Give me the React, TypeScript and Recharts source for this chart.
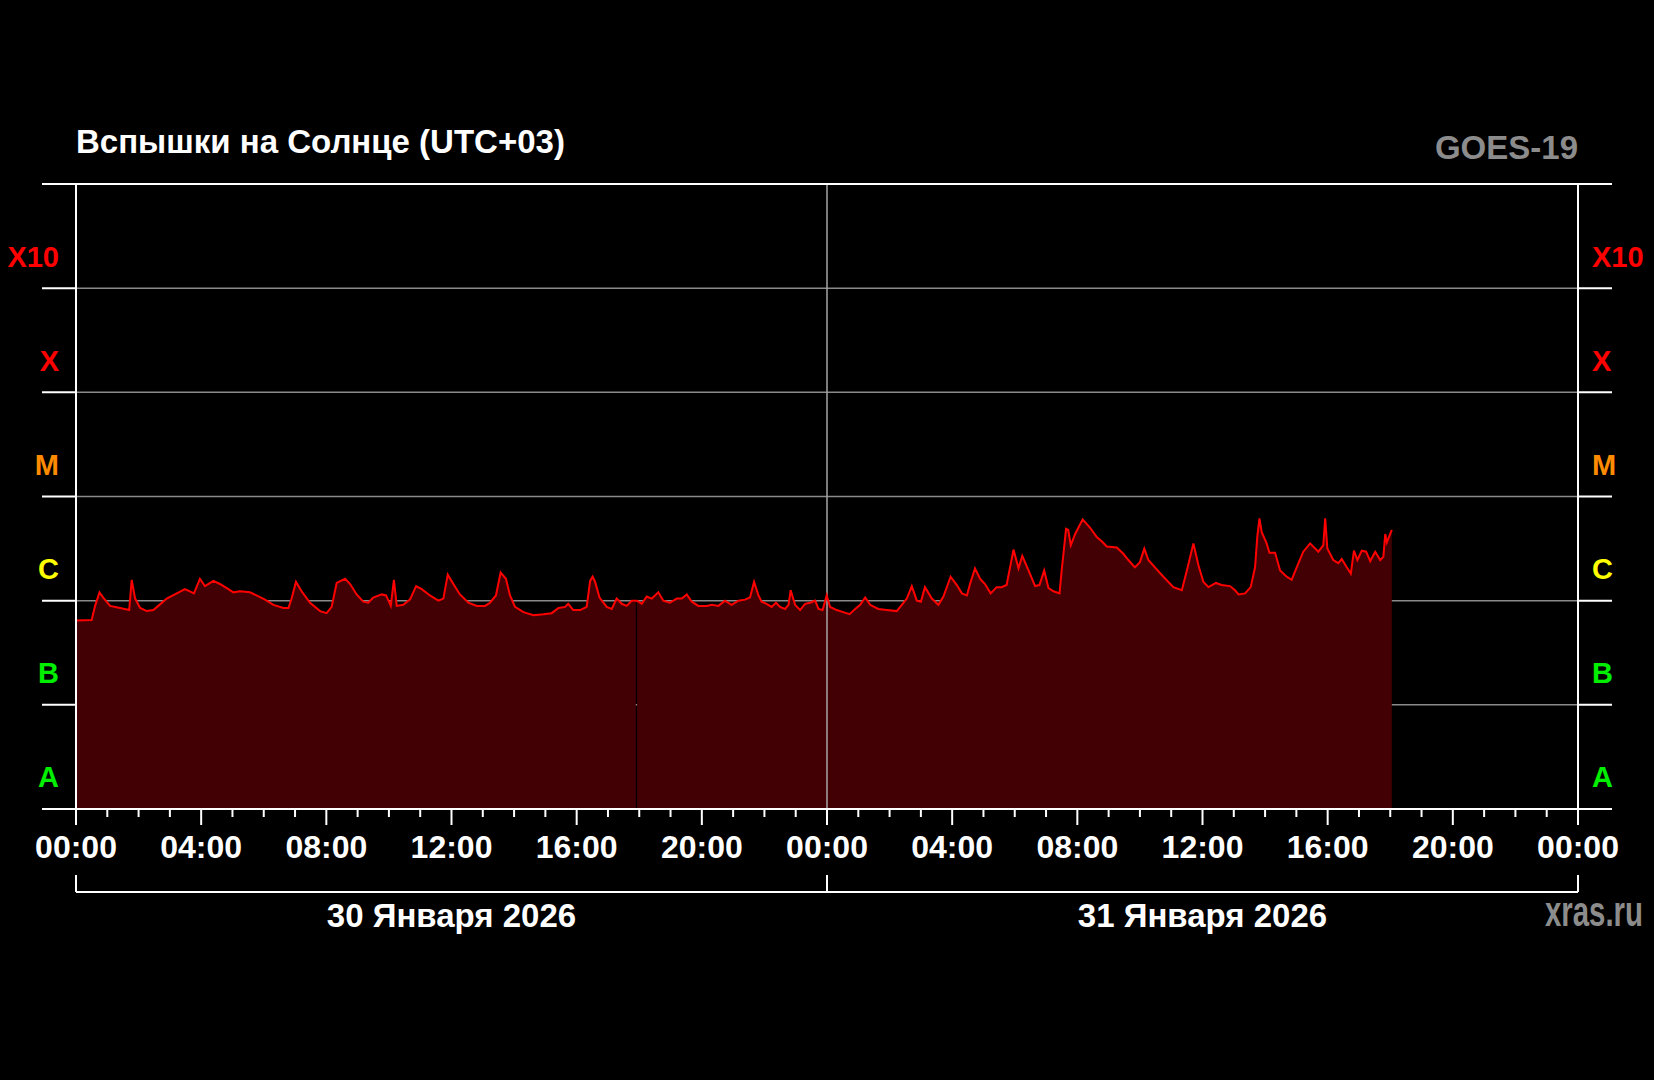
import React from 'react';
import {
  ComposedChart,
  Area,
  Line,
  XAxis,
  YAxis,
  CartesianGrid,
  ReferenceLine,
} from 'recharts';

// Time in hours from 30 Jan 2026 00:00 (UTC+03)
const hours = [
  0.0, 0.5, 0.61, 0.75, 0.87, 1.09, 1.41, 1.7, 1.78, 1.89, 2.05, 2.26, 2.47, 2.63, 2.9, 3.22, 3.48, 3.64, 3.77, 3.96,
  4.12, 4.39, 4.6, 4.87, 5.03, 5.24, 5.56, 5.77, 6.04, 6.31, 6.63, 6.79, 6.89, 7.03, 7.21, 7.48, 7.8, 8.01, 8.17, 8.33,
  8.6, 8.76, 8.97, 9.18, 9.34, 9.5, 9.77, 9.91, 10.06, 10.16, 10.25, 10.46, 10.67, 10.87, 11.05, 11.31, 11.58, 11.74,
  11.88, 12.06, 12.27, 12.54, 12.81, 13.07, 13.23, 13.42, 13.57, 13.74, 13.87, 14.03, 14.3, 14.62, 14.94, 15.2, 15.42,
  15.63, 15.73, 15.89, 16.11, 16.32, 16.43, 16.51, 16.59, 16.73, 16.96, 17.12, 17.28, 17.44, 17.6, 17.76, 17.89, 17.93,
  18.08, 18.24, 18.4, 18.61, 18.77, 18.98, 19.2, 19.36, 19.52, 19.68, 19.89, 20.16, 20.32, 20.53, 20.74, 20.95, 21.17,
  21.38, 21.54, 21.67, 21.81, 21.91, 22.07, 22.23, 22.37, 22.5, 22.66, 22.77, 22.84, 22.98, 23.14, 23.3, 23.46, 23.62,
  23.73, 23.86, 23.99, 24.1, 24.31, 24.52, 24.72, 24.9, 25.06, 25.22, 25.38, 25.64, 25.91, 26.23, 26.39, 26.55, 26.71,
  26.87, 27.0, 27.13, 27.35, 27.56, 27.72, 27.95, 28.15, 28.31, 28.47, 28.57, 28.73, 28.89, 29.05, 29.23, 29.42, 29.58,
  29.74, 29.96, 30.12, 30.24, 30.44, 30.65, 30.79, 30.94, 31.08, 31.24, 31.43, 31.5, 31.64, 31.71, 31.79, 31.93, 32.17,
  32.41, 32.62, 32.78, 32.94, 33.26, 33.47, 33.63, 33.84, 34.0, 34.14, 34.27, 34.48, 34.75, 35.07, 35.34, 35.5, 35.71,
  35.87, 36.03, 36.19, 36.43, 36.61, 36.88, 37.04, 37.15, 37.36, 37.54, 37.68, 37.75, 37.82, 37.89, 38.05, 38.14, 38.32,
  38.48, 38.69, 38.85, 39.01, 39.22, 39.44, 39.7, 39.86, 39.92, 39.99, 40.18, 40.34, 40.45, 40.61, 40.74, 40.84, 40.95,
  41.09, 41.23, 41.36, 41.52, 41.68, 41.78, 41.84, 41.89, 42.05,
];

// log10 of X-ray flux (W/m^2)
const logFlux = [
  -6.19, -6.185, -6.05, -5.92, -5.97, -6.05, -6.07, -6.09, -5.8, -5.98, -6.07, -6.1, -6.09, -6.05, -5.98, -5.93, -5.89,
  -5.91, -5.93, -5.79, -5.86, -5.81, -5.84, -5.89, -5.92, -5.91, -5.92, -5.95, -5.99, -6.04, -6.07, -6.07, -5.98, -5.82,
  -5.91, -6.02, -6.1, -6.12, -6.06, -5.83, -5.79, -5.84, -5.94, -6.01, -6.02, -5.97, -5.94, -5.95, -6.05, -5.8, -6.05,
  -6.04, -5.99, -5.86, -5.89, -5.95, -6.0, -5.98, -5.75, -5.84, -5.94, -6.02, -6.05, -6.05, -6.02, -5.95, -5.73, -5.79,
  -5.95, -6.06, -6.11, -6.14, -6.13, -6.12, -6.07, -6.06, -6.03, -6.09, -6.09, -6.06, -5.81, -5.77, -5.82, -5.97, -6.06,
  -6.08, -5.98, -6.03, -6.05, -6.0, -6.0, -6.0, -6.03, -5.96, -5.98, -5.92, -6.0, -6.02, -5.98, -5.98, -5.94, -6.01,
  -6.05, -6.05, -6.04, -6.05, -6.0, -6.04, -6.0, -5.99, -5.97, -5.82, -5.95, -6.01, -6.03, -6.06, -6.02, -6.06, -6.08,
  -6.04, -5.9, -6.04, -6.09, -6.03, -6.02, -6.0, -6.08, -6.09, -5.95, -6.06, -6.09, -6.11, -6.13, -6.08, -6.04, -5.97,
  -6.04, -6.08, -6.09, -6.1, -6.04, -5.98, -5.86, -6.0, -6.01, -5.87, -5.98, -6.04, -5.96, -5.77, -5.85, -5.93, -5.95,
  -5.84, -5.69, -5.79, -5.84, -5.93, -5.87, -5.87, -5.85, -5.51, -5.69, -5.57, -5.71, -5.86, -5.85, -5.71, -5.88, -5.91,
  -5.93, -5.71, -5.31, -5.32, -5.47, -5.36, -5.22, -5.3, -5.39, -5.43, -5.48, -5.49, -5.55, -5.61, -5.68, -5.63, -5.5,
  -5.61, -5.68, -5.77, -5.87, -5.9, -5.71, -5.45, -5.66, -5.82, -5.87, -5.83, -5.85, -5.86, -5.9, -5.94, -5.93, -5.87,
  -5.68, -5.39, -5.21, -5.34, -5.45, -5.54, -5.54, -5.71, -5.77, -5.8, -5.68, -5.53, -5.45, -5.53, -5.47, -5.21, -5.5,
  -5.61, -5.64, -5.6, -5.68, -5.74, -5.52, -5.61, -5.52, -5.53, -5.62, -5.53, -5.61, -5.58, -5.36, -5.44, -5.32,
];

// Missing sample (fill gap)
const gapHours = [17.91];

const decadeTicks = [-8, -7, -6, -5, -4, -3, -2];
const classFloors = [-8, -7, -6, -5, -4, -3];
const classNames = ['A', 'B', 'C', 'M', 'X', 'X10'];
const classColors = ['#00ee00', '#00ee00', '#ffff00', '#ff8c00', '#ff0000', '#ff0000'];

const hourTicks = [
  0, 1, 2, 3, 4, 5, 6, 7, 8, 9, 10, 11, 12, 13, 14, 15, 16, 17, 18, 19, 20, 21, 22, 23, 24, 25, 26, 27, 28, 29, 30, 31,
  32, 33, 34, 35, 36, 37, 38, 39, 40, 41, 42, 43, 44, 45, 46, 47, 48,
];
const hourLabels = ['00:00', '04:00', '08:00', '12:00', '16:00', '20:00', '00:00', '04:00', '08:00', '12:00', '16:00', '20:00', '00:00'];
const dayTicks = [0, 12, 24, 36, 48];
const dayLabels = ['30 Января 2026', '31 Января 2026'];

const FONT = "'Liberation Sans', Arial, Helvetica, sans-serif";

const rows: { t: number; flux: number | null }[] = hours.map((t, i) => ({ t, flux: logFlux[i] }));
gapHours.forEach((g) => rows.push({ t: g, flux: null }));
rows.sort((a, b) => a.t - b.t);

const HourTick = (props: any) => {
  const { x, y, payload } = props;
  const v = payload.value as number;
  const major = v % 4 === 0;
  return (
    <g>
      <line x1={x} y1={y} x2={x} y2={y + (major ? 16 : 8)} stroke="#ffffff" strokeWidth={2} />
      {major && (
        <text
          x={x}
          y={y + 38}
          textAnchor="middle"
          dominantBaseline="central"
          fill="#ffffff"
          fontFamily={FONT}
          fontWeight="bold"
          fontSize={32}
        >
          {hourLabels[v / 4]}
        </text>
      )}
    </g>
  );
};

const DayTick = (props: any) => {
  const { x, y, payload } = props;
  const v = payload.value as number;
  if (v % 24 === 0) {
    return <line x1={x} y1={y} x2={x} y2={y - 17} stroke="#ffffff" strokeWidth={2} />;
  }
  return (
    <text
      x={x}
      y={y + 23}
      textAnchor="middle"
      dominantBaseline="central"
      fill="#ffffff"
      fontFamily={FONT}
      fontWeight="bold"
      fontSize={33}
    >
      {dayLabels[Math.floor(v / 24)]}
    </text>
  );
};

const ClassTick = (props: any) => {
  const { x, y, payload } = props;
  const idx = classFloors.indexOf(payload.value);
  if (idx < 0) return <g />;
  const left = x < 827;
  return (
    <text
      x={left ? x + 17 : x - 20}
      y={y - 31.6}
      textAnchor={left ? 'end' : 'start'}
      dominantBaseline="central"
      fill={classColors[idx]}
      fontFamily={FONT}
      fontWeight="bold"
      fontSize={29}
    >
      {classNames[idx]}
    </text>
  );
};

export default function App() {
  return (
    <div style={{ position: 'absolute', left: 0, top: 0, width: 1654, height: 1080, background: '#000000' }}>
      <ComposedChart
        width={1654}
        height={1080}
        data={rows}
        margin={{ top: 184, right: 0, bottom: 128, left: 0 }}
      >
        <CartesianGrid vertical={false} stroke="#8a8a8a" strokeWidth={1.5} />
        <XAxis
          dataKey="t"
          type="number"
          domain={[0, 48]}
          ticks={hourTicks}
          interval={0}
          height={83}
          tickLine={false}
          tickSize={0}
          tickMargin={0}
          axisLine={{ stroke: '#ffffff', strokeWidth: 2 }}
          tick={<HourTick />}
        />
        <XAxis
          xAxisId="day"
          dataKey="t"
          type="number"
          domain={[0, 48]}
          ticks={dayTicks}
          interval={0}
          height={60}
          tickLine={false}
          tickSize={0}
          tickMargin={0}
          axisLine={{ stroke: '#ffffff', strokeWidth: 2 }}
          tick={<DayTick />}
        />
        <YAxis
          type="number"
          domain={[-8, -2]}
          ticks={decadeTicks}
          interval={0}
          width={76}
          tickSize={34}
          tickMargin={0}
          tickLine={{ stroke: '#ffffff', strokeWidth: 2 }}
          axisLine={{ stroke: '#ffffff', strokeWidth: 2 }}
          tick={<ClassTick />}
        />
        <YAxis
          yAxisId="right"
          orientation="right"
          type="number"
          domain={[-8, -2]}
          ticks={decadeTicks}
          interval={0}
          width={76}
          tickSize={34}
          tickMargin={0}
          tickLine={{ stroke: '#ffffff', strokeWidth: 2 }}
          axisLine={{ stroke: '#ffffff', strokeWidth: 2 }}
          tick={<ClassTick />}
        />
        <Area
          yAxisId="right"
          dataKey="flux"
          type="linear"
          stroke="none"
          fill="#430004"
          fillOpacity={1}
          baseValue="dataMin"
          connectNulls={false}
          dot={false}
          activeDot={false}
          isAnimationActive={false}
        />
        <ReferenceLine x={24} stroke="#a6a6a6" strokeWidth={1.5} />
        <ReferenceLine y={-2} stroke="#ffffff" strokeWidth={2} />
        <Line
          dataKey="flux"
          type="linear"
          stroke="#ff0000"
          strokeWidth={2}
          dot={false}
          activeDot={false}
          connectNulls
          isAnimationActive={false}
        />
        <text x={76} y={153} fill="#ffffff" fontFamily={FONT} fontWeight="bold" fontSize={33}>
          Вспышки на Солнце (UTC+03)
        </text>
        <text x={1578} y={159} textAnchor="end" fill="#8c8c8c" fontFamily={FONT} fontWeight="bold" fontSize={33}>
          GOES-19
        </text>
        <text
          transform="translate(1643,926) scale(0.7,1)"
          textAnchor="end"
          fill="#8c8c8c"
          fontFamily={FONT}
          fontWeight="bold"
          fontSize={42}
        >
          xras.ru
        </text>
      </ComposedChart>
    </div>
  );
}
